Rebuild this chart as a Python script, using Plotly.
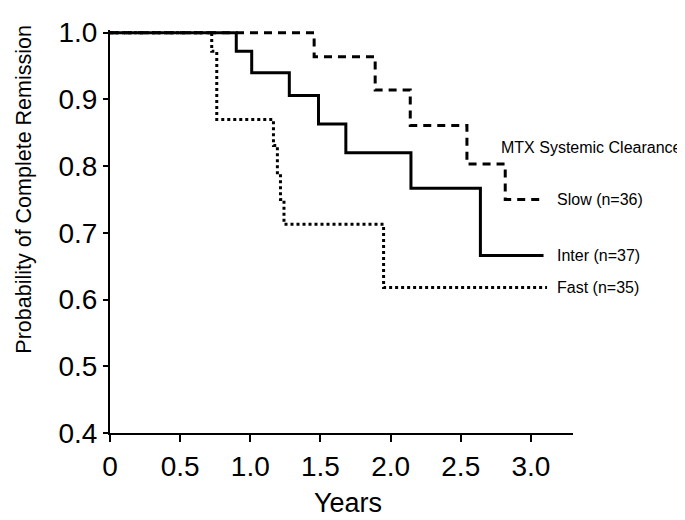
import plotly.graph_objects as go

# Kaplan-Meier step data (years, probability)
slow_t = [0, 1.455, 1.89, 2.14, 2.544, 2.817, 3.08]
slow_p = [1.0, 0.964, 0.914, 0.861, 0.803, 0.750, 0.750]

inter_t = [0, 0.90, 1.01, 1.278, 1.486, 1.681, 2.145, 2.640, 3.09]
inter_p = [1.0, 0.972, 0.940, 0.906, 0.863, 0.820, 0.767, 0.666, 0.666]

fast_t = [0, 0.725, 0.761, 1.165, 1.193, 1.215, 1.24, 1.95, 3.115]
fast_p = [1.0, 0.972, 0.870, 0.831, 0.790, 0.750, 0.713, 0.618, 0.618]

series_names = ["Slow (n=36)", "Inter (n=37)", "Fast (n=35)"]
legend_title = "MTX Systemic Clearance"

x_ticks = [0, 0.5, 1.0, 1.5, 2.0, 2.5, 3.0]
x_tick_text = ["0", "0.5", "1.0", "1.5", "2.0", "2.5", "3.0"]
y_ticks = [0.4, 0.5, 0.6, 0.7, 0.8, 0.9, 1.0]
y_tick_text = ["0.4", "0.5", "0.6", "0.7", "0.8", "0.9", "1.0"]

FONT = "Liberation Sans, Arial, sans-serif"

fig = go.Figure()
fig.add_trace(go.Scatter(x=slow_t, y=slow_p, mode="lines", line_shape="hv",
                         line=dict(color="black", width=3, dash="8px,6px"),
                         name=series_names[0], showlegend=False))
fig.add_trace(go.Scatter(x=inter_t, y=inter_p, mode="lines", line_shape="hv",
                         line=dict(color="black", width=3),
                         name=series_names[1], showlegend=False))
fig.add_trace(go.Scatter(x=fast_t, y=fast_p, mode="lines", line_shape="hv",
                         line=dict(color="black", width=3, dash="3px,3px"),
                         name=series_names[2], showlegend=False))

label_x = 3.186
for name, t, p in [(series_names[0], slow_t, slow_p),
                   (series_names[1], inter_t, inter_p),
                   (series_names[2], fast_t, fast_p)]:
    fig.add_annotation(x=label_x, y=p[-1], xref="x", yref="y", text=name,
                       showarrow=False, xanchor="left", yanchor="middle",
                       borderpad=0, borderwidth=0,
                       font=dict(family=FONT, size=16, color="black"))

fig.add_annotation(x=1.2365, y=0.828, xref="paper", yref="y", text=legend_title,
                   showarrow=False, xanchor="right", yanchor="middle",
                   borderpad=0, borderwidth=0,
                   font=dict(family=FONT, size=16, color="black"))

fig.add_annotation(x=-0.186, y=0.606, xref="paper", yref="paper",
                   text="Probability of Complete Remission", textangle=-90,
                   showarrow=False, xanchor="center", yanchor="middle",
                   borderpad=0, borderwidth=0,
                   font=dict(family=FONT, size=21.5, color="black"))
fig.add_annotation(x=0.5145, y=-0.174, xref="paper", yref="paper",
                   text="Years", showarrow=False, xanchor="center", yanchor="middle",
                   borderpad=0, borderwidth=0,
                   font=dict(family=FONT, size=27, color="black"))

fig.update_xaxes(range=[0, 3.3], tickvals=x_ticks, ticktext=x_tick_text,
                 showline=True, linecolor="black", linewidth=2,
                 ticks="outside", ticklen=7, tickwidth=2, tickcolor="black",
                 showgrid=False, zeroline=False, ticklabeloverflow="allow",
                 tickfont=dict(family=FONT, size=28, color="black"))
fig.update_yaxes(range=[0.4, 1.004], tickvals=y_ticks, ticktext=y_tick_text,
                 showline=True, linecolor="black", linewidth=2,
                 ticks="outside", ticklen=5, tickwidth=2, tickcolor="black",
                 showgrid=False, zeroline=False, ticklabeloverflow="allow",
                 tickfont=dict(family=FONT, size=28, color="black"))

# The page body adds an 8 px margin, so the figure is 8 px smaller than the
# window and the plot area is placed 8 px up/left to land where the reference has it.
fig.update_layout(width=677, height=512, margin=dict(l=102, r=112, t=10, b=87),
                  paper_bgcolor="white", plot_bgcolor="white",
                  font=dict(family=FONT, color="black"))

fig.write_html("out.html")
